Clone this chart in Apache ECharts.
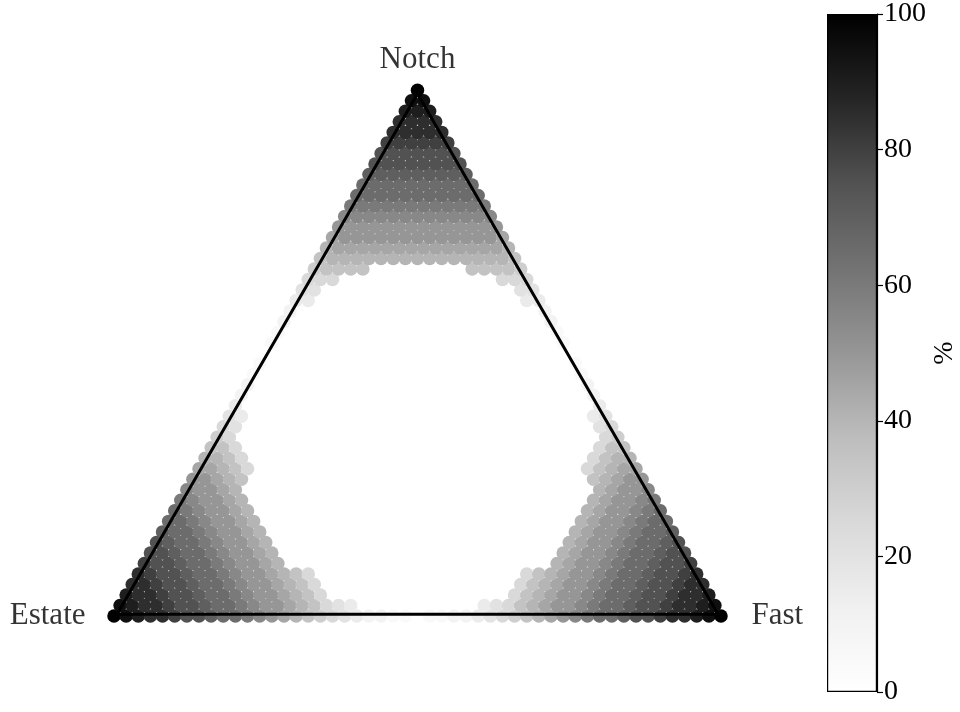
<!DOCTYPE html>
<html>
<head>
<meta charset="utf-8">
<script src="https://cdn.jsdelivr.net/npm/echarts@6.0.0/dist/echarts.min.js"></script>
<style>
  html, body { margin: 0; padding: 0; background: #fff; }
  #chart { width: 960px; height: 712px; }
</style>
</head>
<body>
<div id="chart"></div>
<script>
    // corners of the ternary plot: bottom-left, bottom-right, top
    var cornerNames = ['Estate', 'Fast', 'Notch'];
    var gridSize = 50; // steps along each side

    // one string per row (row 0 = bottom edge, row 50 = Notch apex)
    // each char is a level (value = index * levelStep), '|' splits the left
    // part (from the Estate edge) and the right part (ending at the Fast edge)
    var levelChars = '0123456789ABCDEFGHIJK';
    var levelStep = 5;
    var rowLevels = [
        'KJIHHGFFEDDCBA98765432211|011223456789ABCDDEFFGHHIJK',
        'JIHHGFFEDDCBAA987543|345789AABCDDEFFGHHIJ',
        'IHHGFFEDDCBAA9875|5789AABCDDEFFGHHI',
        'HHGFFEDDCBAA9875|5789AABCDDEFFGHH',
        'HGFFEDDCBAA9875|5789AABCDDEFFGH',
        'GFFEDDCBAA98|89AABCDDEFFG',
        'FFEDDCBAA98|89AABCDDEFF',
        'FEDDCBAA98|89AABCDDEF',
        'EDDCBAA98|89AABCDDE',
        'DDCBAA98|89AABCDD',
        'DCBAA98|89AABCD',
        'CBAA98|89AABC',
        'BAA98|89AAB',
        'AA987|789AA',
        '99875|57899',
        '8875|5788',
        '775|577',
        '65|56',
        '54|45',
        '43|34',
        '3|3',
        '2|2',
        '2|2',
        '1|1',
        '1|1',
        '0|0',
        '1|1',
        '1|1',
        '2|2',
        '2|2',
        '33|33',
        '44|44',
        '555|555',
        '67777|77776',
        '78888888|888888887',
        '89999999|99999998',
        '9AAAAAAA|AAAAAA9',
        'AAAAAAA|AAAAAAA',
        'BBBBBBB|BBBBBB',
        'CCCCCC|CCCCCC',
        'DDDDDD|DDDDD',
        'DDDDD|DDDDD',
        'EEEEE|EEEE',
        'FFFF|FFFF',
        'FFFF|FFF',
        'GGG|GGG',
        'HHH|HH',
        'HH|HH',
        'II|I',
        'J|J',
        'K'
    ];

    // colour bar
    var colorbarRange = [0, 100];
    var colorbarStep = 20;
    var colorbarLabel = '%';
    var greys = ['#ffffff', '#f0f0f0', '#d9d9d9', '#bdbdbd', '#969696', '#737373', '#525252', '#252525', '#000000'];

    var H = Math.sqrt(3) / 2;
    var points = [];
    rowLevels.forEach(function (row, r) {
        var last = gridSize - r;
        var parts = row.split('|');
        var left = parts[0];
        var right = parts.length > 1 ? parts[1] : '';
        function put(ch, c) {
            var k = levelChars.indexOf(ch);
            if (k < 0) return;
            points.push([c + r / 2, r * H, k * levelStep]);
        }
        for (var i = 0; i < left.length; i++) put(left[i], i);
        for (var j = 0; j < right.length; j++) put(right[j], last - right.length + 1 + j);
    });

    var corners = [[0, 0], [gridSize, 0], [gridSize / 2, gridSize * H]];
    // the outline sits a touch inside the outer dots
    var centroid = [gridSize / 2, gridSize * H / 3];
    var outline = corners.map(function (p) {
        return [centroid[0] + (p[0] - centroid[0]) / 1.01, centroid[1] + (p[1] - centroid[1]) / 1.01];
    });
    outline.push(outline[0]);

    var serif = 'Liberation Serif';
    var unit = 12.14;

    var chart = echarts.init(document.getElementById('chart'));
    chart.setOption({
        backgroundColor: '#fff',
        animation: false,
        grid: [
            { left: 114, top: 616 - gridSize * H * unit, width: gridSize * unit, height: gridSize * H * unit, outerBoundsMode: 'none' },
            { left: 827, top: 14, width: 50, height: 678, outerBoundsMode: 'none' }
        ],
        xAxis: [
            { type: 'value', min: 0, max: gridSize, show: false },
            { type: 'category', gridIndex: 1, data: [''], show: false }
        ],
        yAxis: [
            { type: 'value', min: 0, max: gridSize * H, show: false },
            {
                type: 'value', gridIndex: 1, position: 'right',
                min: colorbarRange[0], max: colorbarRange[1], interval: colorbarStep,
                axisLine: { show: true, lineStyle: { color: '#000', width: 1.2 } },
                axisTick: { show: true, length: 6, lineStyle: { color: '#000', width: 1.2 } },
                axisLabel: { color: '#000', fontSize: 28, fontFamily: serif, margin: 7 },
                splitLine: { show: false },
                name: colorbarLabel,
                nameLocation: 'middle',
                nameRotate: 90,
                nameGap: 54,
                nameTextStyle: { color: '#000', fontSize: 28, fontFamily: serif }
            }
        ],
        visualMap: {
            show: false,
            seriesIndex: 0,
            dimension: 2,
            min: colorbarRange[0],
            max: colorbarRange[1],
            inRange: { color: greys }
        },
        series: [
            {
                type: 'scatter',
                data: points,
                symbolSize: 13.5,
                clip: false,
                silent: true,
                z: 2,
                itemStyle: { opacity: 1 }
            },
            {
                type: 'line',
                data: outline,
                symbol: 'none',
                silent: true,
                clip: false,
                z: 3,
                lineStyle: { color: '#000', width: 3 }
            },
            {
                type: 'scatter',
                symbolSize: 1,
                silent: true,
                clip: false,
                z: 4,
                itemStyle: { color: 'rgba(0,0,0,0)' },
                label: {
                    show: true,
                    color: '#000',
                    fontSize: 31,
                    fontFamily: serif,
                    formatter: function (p) { return p.name; }
                },
                data: [
                    { name: cornerNames[0], value: corners[0], label: { position: 'left', distance: 28 } },
                    { name: cornerNames[1], value: corners[1], label: { position: 'right', distance: 30 } },
                    { name: cornerNames[2], value: corners[2], label: { position: 'top', distance: 14 } }
                ]
            },
            {
                type: 'bar',
                xAxisIndex: 1,
                yAxisIndex: 1,
                data: [colorbarRange[1]],
                barWidth: '100%',
                silent: true,
                itemStyle: {
                    borderColor: '#000',
                    borderWidth: 1.2,
                    color: new echarts.graphic.LinearGradient(0, 1, 0, 0, greys.map(function (c, i) {
                        return { offset: i / (greys.length - 1), color: c };
                    }))
                }
            }
        ]
    });
</script>
</body>
</html>
